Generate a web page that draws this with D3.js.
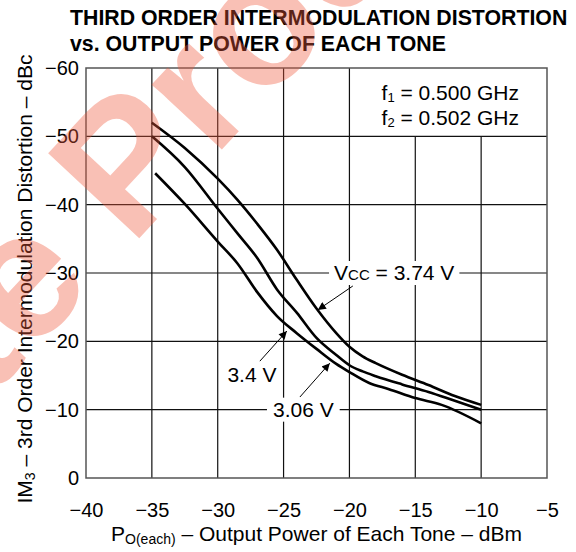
<!DOCTYPE html>
<html lang="en">
<head>
<meta charset="UTF-8">
<title>IM3 vs output power</title>
<script src="https://cdn.jsdelivr.net/npm/d3@7"></script>
<style>
  body { margin: 0; background: #fff; }
  text { font-family: Arial, "Liberation Sans", Helvetica, sans-serif; }
</style>
</head>
<body>
<script>
const width = 576
const height = 552

// axis ticks
const xTicks = [-40, -35, -30, -25, -20, -15, -10, -5]
const yTicks = [0, -10, -20, -30, -40, -50, -60]

// Vcc = 3.74 V
const pout374 = [-35, -32.5, -30, -28.5, -27, -25.5, -24, -22.5, -21, -20, -19, -18, -16, -14, -12, -10]
const im3_374 = [-52, -48.3, -43.8, -40.7, -37.2, -33.4, -29.0, -24.8, -21.2, -19.2, -17.8, -16.8, -15.1, -13.6, -12.0, -10.7]
// Vcc = 3.4 V
const pout340 = [-35, -32.5, -30, -28.5, -27, -25.5, -24, -22.5, -21, -20, -19, -18, -16, -14, -12, -10]
const im3_340 = [-50, -45.5, -39.4, -35.8, -32.2, -27.6, -24.2, -20.5, -18.0, -16.5, -15.6, -14.9, -13.7, -12.6, -11.3, -10.0]
// Vcc = 3.06 V
const pout306 = [-34.75, -32.5, -30, -28.5, -27, -25.5, -24, -22.5, -21, -20, -18.5, -17, -15, -13, -10]
const im3_306 = [-44.6, -40.1, -34.6, -31.4, -27.2, -23.7, -21.2, -18.9, -16.7, -15.5, -13.9, -13.0, -11.7, -10.7, -8.0]

const series = [
  { name: "3.74 V", x: pout374, y: im3_374 },
  { name: "3.4 V", x: pout340, y: im3_340 },
  { name: "3.06 V", x: pout306, y: im3_306 }
]

const x = d3.scaleLinear().domain([-40, -5]).range([86, 547])
const y = d3.scaleLinear().domain([0, -60]).range([478, 68])

const svg = d3.select("body").append("svg")
    .attr("width", width)
    .attr("height", height)

// title
const title = svg.append("text")
    .attr("font-size", 21.3)
    .attr("font-weight", "bold")
    .attr("fill", "#000")
title.append("tspan").attr("x", 70).attr("y", 25).text("THIRD ORDER INTERMODULATION DISTORTION")
title.append("tspan").attr("x", 70).attr("y", 51).text("vs. OUTPUT POWER OF EACH TONE")

// grid (the note box at top right has no -15 / -10 lines)
const grid = svg.append("g")
grid.selectAll(".vx")
    .data(xTicks.slice(1, -1))
    .enter().append("line")
    .attr("x1", d => x(d)).attr("x2", d => x(d))
    .attr("y1", d => d > -20 ? y(-50) : y(-60)).attr("y2", y(0))
    .attr("stroke", "#111").attr("stroke-width", 1.2)
grid.selectAll(".hy")
    .data(yTicks.slice(1, -1))
    .enter().append("line")
    .attr("x1", x(-40)).attr("x2", x(-5))
    .attr("y1", d => y(d)).attr("y2", d => y(d))
    .attr("stroke", "#111").attr("stroke-width", 1.2)
svg.append("rect")
    .attr("x", x(-40)).attr("y", y(-60))
    .attr("width", x(-5) - x(-40)).attr("height", y(0) - y(-60))
    .attr("fill", "none").attr("stroke", "#555").attr("stroke-width", 1.5)

// tick labels
svg.append("g")
    .attr("transform", `translate(0, ${y(0)})`)
    .call(d3.axisBottom(x).tickValues(xTicks).tickSize(0).tickPadding(25).tickFormat(d3.format("d")))
    .call(g => g.select(".domain").remove())
    .selectAll("text").attr("font-size", 20).attr("font-family", null).attr("fill", "#000")

svg.append("g")
    .attr("transform", `translate(${x(-40)}, 0)`)
    .call(d3.axisLeft(y).tickValues(yTicks).tickSize(0).tickPadding(7).tickFormat(d3.format("d")))
    .call(g => g.select(".domain").remove())
    .selectAll("text").attr("font-size", 20).attr("font-family", null).attr("fill", "#000")

// axis titles
const xt = svg.append("text")
    .attr("x", (x(-40) + x(-5)) / 2).attr("y", 541)
    .attr("text-anchor", "middle").attr("font-size", 21)
xt.append("tspan").text("P")
xt.append("tspan").attr("font-size", 14).attr("dy", 3).text("O(each)")
xt.append("tspan").attr("dy", -3).text(" – Output Power of Each Tone – dBm")

const yt = svg.append("text")
    .attr("transform", `translate(32, ${(y(0) + y(-60)) / 2 + 6}) rotate(-90)`)
    .attr("text-anchor", "middle").attr("font-size", 21)
yt.append("tspan").text("IM")
yt.append("tspan").attr("font-size", 14).attr("dy", 3).text("3")
yt.append("tspan").attr("dy", -3).text(" – 3rd Order Intermodulation Distortion – dBc")

// frequency note
const n1 = svg.append("text").attr("text-anchor", "end").attr("font-size", 21)
    .attr("x", 519).attr("y", 100)
n1.append("tspan").text("f")
n1.append("tspan").attr("font-size", 13).attr("dy", 2).text("1")
n1.append("tspan").attr("dy", -2).text(" = 0.500 GHz")
const n2 = svg.append("text").attr("text-anchor", "end").attr("font-size", 21)
    .attr("x", 519).attr("y", 125)
n2.append("tspan").text("f")
n2.append("tspan").attr("font-size", 13).attr("dy", 2).text("2")
n2.append("tspan").attr("dy", -2).text(" = 0.502 GHz")

// curve labels with white boxes
function boxedLabel(cx, cy, parts, pad) {
  const g = svg.append("g")
  const t = g.append("text")
      .attr("x", x(cx)).attr("y", y(cy))
      .attr("text-anchor", "middle").attr("dy", "0.35em")
      .attr("font-size", 21)
  parts.forEach(p => t.append("tspan").attr("font-size", p[1]).text(p[0]))
  if (pad != null) {
    const b = t.node().getBBox()
    g.insert("rect", "text")
        .attr("x", b.x - pad).attr("y", y(cy) - 12)
        .attr("width", b.width + 2 * pad).attr("height", 24)
        .attr("fill", "#fff")
  }
}
boxedLabel(-16.6, -30, [["V", 21], ["CC", 15], [" = 3.74 V", 21]], 5)
boxedLabel(-23.5, -10, [["3.06 V", 21]], 6)
boxedLabel(-27.4, -15.1, [["3.4 V", 21]], null)

// curves
const line = d3.line()
    .x(d => x(d[0]))
    .y(d => y(d[1]))
    .curve(d3.curveMonotoneX)

svg.append("g").selectAll("path")
    .data(series)
    .enter().append("path")
    .attr("d", s => line(s.x.map((v, i) => [v, s.y[i]])))
    .attr("fill", "none")
    .attr("stroke", "#000")
    .attr("stroke-width", 2.6)

// arrows
svg.append("defs").append("marker")
    .attr("id", "head")
    .attr("viewBox", "0 0 10 10")
    .attr("refX", 10).attr("refY", 5)
    .attr("markerWidth", 11).attr("markerHeight", 8)
    .attr("markerUnits", "userSpaceOnUse")
    .attr("orient", "auto")
  .append("path").attr("d", "M0,0L10,5L0,10z").attr("fill", "#000")

const arrows = [
  [[-19.74, -28.1], [-22.4, -24.6]],
  [[-26.8, -17.1], [-24.75, -21.5]],
  [[-23.76, -11.85], [-21.49, -16.8]]
]
svg.append("g").selectAll("line")
    .data(arrows)
    .enter().append("line")
    .attr("x1", d => x(d[0][0])).attr("y1", d => y(d[0][1]))
    .attr("x2", d => x(d[1][0])).attr("y2", d => y(d[1][1]))
    .attr("stroke", "#000").attr("stroke-width", 1)
    .attr("marker-end", "url(#head)")

// watermark
const wm = svg.append("g")
    .attr("transform", "translate(131, 247) rotate(-47)")
    .attr("font-size", 181)
    .attr("font-weight", "bold")
    .attr("fill", "#ee5a3c")
    .attr("fill-opacity", 0.38)
wm.append("text").attr("x", -50).attr("text-anchor", "end").text("Obsolete")
wm.append("text").attr("x", 0).text("Product")
</script>
</body>
</html>
